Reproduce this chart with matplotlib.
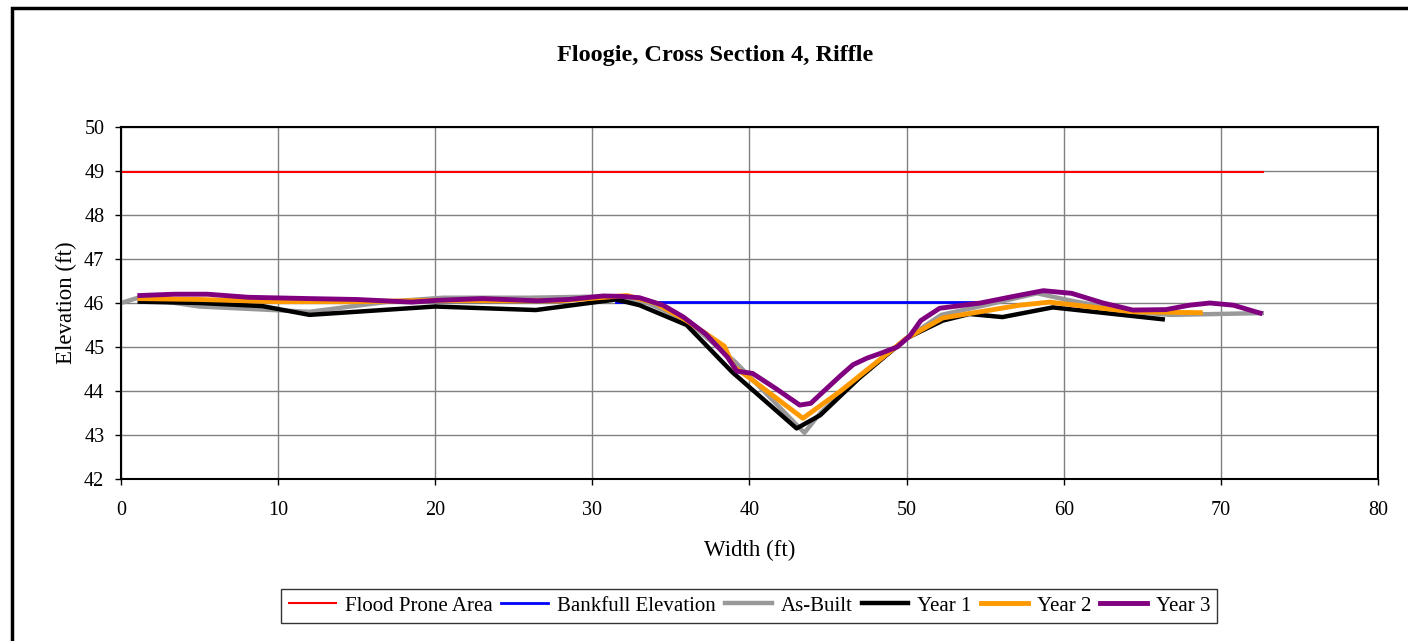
import matplotlib
matplotlib.use("Agg")
import matplotlib.pyplot as plt
import matplotlib.patches as ptch

plt.rcParams["font.family"] = ["Liberation Serif", "DejaVu Serif"]

# flood prone / bankfull reference lines
flood_x = [0, 72.7]
flood_y = [48.98, 48.98]
bank_x = [31.5, 54.7]
bank_y = [46.03, 46.03]

asbuilt_x = [0, 1.1, 5, 12, 17, 20.5, 26, 31, 33.5, 36, 39.1, 43.5, 44.5, 47, 50, 52.2, 55, 58.3, 60.5, 64.4, 66.8, 72.6]
asbuilt_y = [46.0, 46.12, 45.92, 45.8, 46.03, 46.12, 46.12, 46.15, 46.0, 45.6, 44.66, 43.05, 43.5, 44.3, 45.2, 45.73, 45.95, 46.22, 46.05, 45.8, 45.73, 45.77]

year1_x = [1.2, 5, 9, 12, 20, 26.4, 31.5, 33, 36, 38.9, 43, 44.5, 47, 50, 52.3, 54, 56.1, 59.3, 66.3]
year1_y = [46.03, 46.0, 45.93, 45.73, 45.92, 45.84, 46.08, 45.95, 45.5, 44.43, 43.15, 43.45, 44.3, 45.2, 45.6, 45.75, 45.68, 45.9, 45.63]

year2_x = [1.2, 5, 10, 15, 20, 25, 28, 32.2, 34, 36, 38.4, 39, 40, 43.4, 45.8, 50, 52.3, 57.2, 59.1, 64.4, 68.7]
year2_y = [46.1, 46.08, 46.03, 46.03, 46.06, 46.05, 46.05, 46.17, 46.0, 45.6, 45.02, 44.55, 44.3, 43.38, 44.0, 45.2, 45.66, 45.95, 46.02, 45.8, 45.78]

year3_x = [1.2, 3.4, 5.5, 8.1, 12, 15, 18.5, 20.1, 23, 26.5, 28.5, 30.7, 31.9, 33, 34.5, 35.8, 37.2, 38.6, 39.2, 40.2, 41.7, 43.2, 43.9, 44.5,
           45.8, 46.6, 47.5, 48.3, 49.4, 50.2, 50.9, 52.1, 54.7, 56.8, 58.7, 60.5, 62.5, 64.4, 66.5, 68, 69.3, 70.8, 72.5]
year3_y = [46.17, 46.2, 46.2, 46.13, 46.1, 46.08, 46.02, 46.06, 46.1, 46.05, 46.08, 46.16, 46.15, 46.12, 45.95, 45.68, 45.3, 44.77, 44.45, 44.4, 44.05,
           43.68, 43.72, 43.92, 44.35, 44.6, 44.75, 44.85, 45.0, 45.25, 45.6, 45.88, 46.0, 46.15, 46.28, 46.22, 46.0, 45.84, 45.85, 45.95, 46.0, 45.95, 45.77]

fig = plt.figure(figsize=(14.08, 6.41), dpi=100)
ax = fig.add_axes([0.0859, 0.2527, 0.8928, 0.5492])

# figure frame (only top and left edges visible in the crop)
fig.patches.append(ptch.Rectangle((0.0085, -0.1), 1.2, 1.0875, transform=fig.transFigure,
                                  fill=False, edgecolor="black", linewidth=2.5))

ax.plot(flood_x, flood_y, color="#FF0000", lw=1.5, label="Flood Prone Area")
ax.plot(bank_x, bank_y, color="#0000FF", lw=2, label="Bankfull Elevation")
ax.plot(asbuilt_x, asbuilt_y, color="#999999", lw=3.2, label="As-Built")
ax.plot(year1_x, year1_y, color="black", lw=3.2, label="Year 1")
ax.plot(year2_x, year2_y, color="#FF9900", lw=3.5, label="Year 2")
ax.plot(year3_x, year3_y, color="#800080", lw=3.5, label="Year 3")

ax.set_xlim(0, 80)
ax.set_ylim(42, 50)
ax.set_xticks(range(0, 81, 10))
ax.set_yticks(range(42, 51, 1))
ax.grid(True, color="#808080", lw=1)
ax.set_axisbelow(True)
for s in ax.spines.values():
    s.set_linewidth(1.5)
ax.tick_params(direction="out", length=4, width=1, colors="black", labelsize=14.5)
ax.tick_params(axis="x", pad=12)
ax.tick_params(axis="y", pad=8)

ax.set_xlabel("Width (ft)", fontsize=16.5, labelpad=14)
ax.set_ylabel("Elevation (ft)", fontsize=16.5, labelpad=5)
fig.text(0.5078, 0.914, "Floogie, Cross Section 4, Riffle", ha="center", va="center",
         fontsize=17.5, fontweight="bold")

leg = ax.legend(loc="center", bbox_to_anchor=(0.5, -0.36), ncol=6, fontsize=15,
                frameon=True, fancybox=False, edgecolor="black", handlelength=2.25,
                handletextpad=0.43, columnspacing=0.43, borderpad=0.35)
leg.get_frame().set_linewidth(1)

fig.savefig("out.png", dpi=100)
